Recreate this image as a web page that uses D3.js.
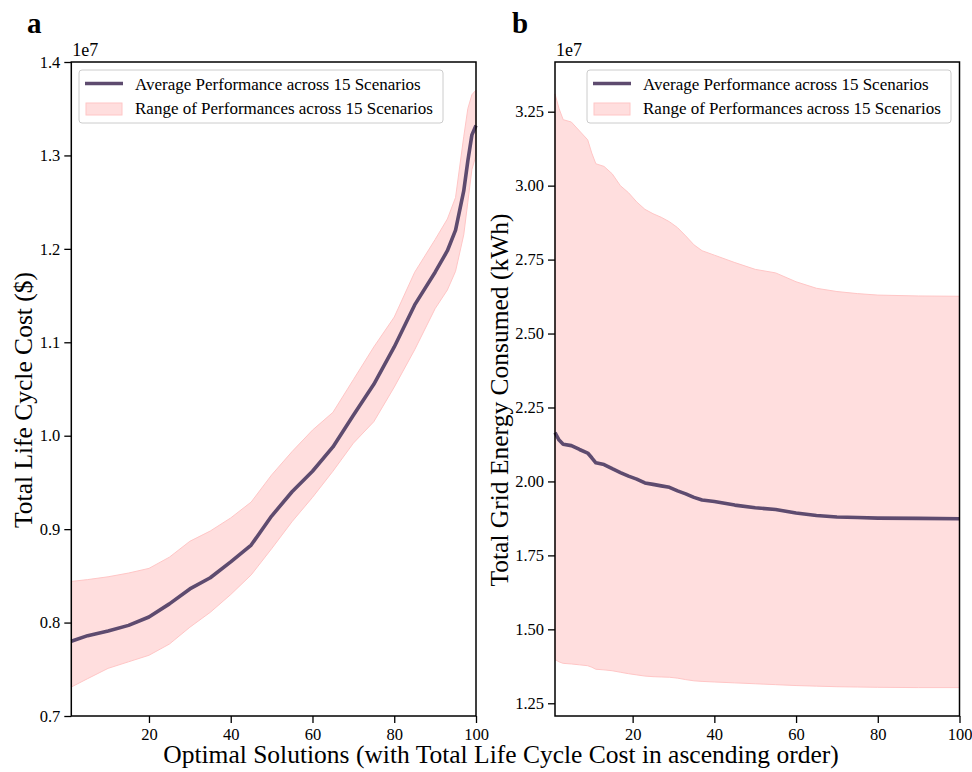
<!DOCTYPE html>
<html>
<head>
<meta charset="utf-8">
<script src="https://cdn.jsdelivr.net/npm/d3@7"></script>
<style>
  body { margin: 0; background: #fff; }
  text { font-family: "Liberation Serif", "Times New Roman", serif; fill: #000; }
</style>
</head>
<body>
<svg id="chart" width="972" height="772"></svg>
<script>
// panel a: total life cycle cost (1e7 $)
var xA = [1, 5, 10, 15, 20, 25, 30, 35, 40, 45, 50, 55, 60, 65, 70, 75, 80, 85, 90, 93, 95, 97, 98, 99, 100];
var meanA = [0.780, 0.786, 0.791, 0.797, 0.806, 0.820, 0.836, 0.848, 0.865, 0.883, 0.914, 0.940, 0.962, 0.988, 1.022, 1.055, 1.095, 1.140, 1.175, 1.198, 1.220, 1.262, 1.294, 1.322, 1.332];
var highA = [0.844, 0.846, 0.849, 0.853, 0.858, 0.870, 0.887, 0.898, 0.912, 0.929, 0.958, 0.983, 1.006, 1.025, 1.060, 1.095, 1.127, 1.175, 1.210, 1.232, 1.255, 1.320, 1.350, 1.365, 1.370];
var lowA = [0.731, 0.740, 0.751, 0.758, 0.765, 0.777, 0.795, 0.811, 0.830, 0.851, 0.879, 0.908, 0.934, 0.962, 0.992, 1.015, 1.052, 1.092, 1.136, 1.156, 1.176, 1.215, 1.250, 1.285, 1.300];

// panel b: total grid energy consumed (1e7 kWh)
var xB = [1, 2, 3, 5, 7, 9, 10, 11, 13, 15, 17, 19, 21, 23, 25, 27, 29, 31, 33, 35, 37, 40, 45, 50, 55, 60, 65, 70, 75, 80, 90, 100];
var meanB = [2.165, 2.140, 2.126, 2.121, 2.108, 2.096, 2.080, 2.063, 2.057, 2.043, 2.030, 2.018, 2.008, 1.995, 1.990, 1.985, 1.980, 1.968, 1.958, 1.946, 1.937, 1.932, 1.920, 1.911, 1.905, 1.893, 1.885, 1.880, 1.878, 1.876, 1.875, 1.874];
var highB = [3.310, 3.260, 3.223, 3.215, 3.185, 3.155, 3.110, 3.074, 3.065, 3.040, 3.000, 2.976, 2.945, 2.920, 2.905, 2.893, 2.878, 2.858, 2.830, 2.800, 2.780, 2.765, 2.740, 2.717, 2.705, 2.675, 2.653, 2.642, 2.635, 2.630, 2.627, 2.626];
var lowB = [1.398, 1.390, 1.385, 1.383, 1.380, 1.377, 1.372, 1.365, 1.363, 1.360, 1.355, 1.350, 1.346, 1.342, 1.340, 1.339, 1.338, 1.335, 1.330, 1.326, 1.324, 1.322, 1.319, 1.316, 1.313, 1.310, 1.308, 1.306, 1.305, 1.304, 1.303, 1.303];

var xTicks = [20, 40, 60, 80, 100];
var yTicksA = [0.7, 0.8, 0.9, 1.0, 1.1, 1.2, 1.3, 1.4];
var yTicksB = [1.25, 1.50, 1.75, 2.00, 2.25, 2.50, 2.75, 3.00, 3.25];

var legendLabels = ["Average Performance across 15 Scenarios", "Range of Performances across 15 Scenarios"];

var lineColor = "#5e4b6f";
var bandFill = "#ffdede";
var bandEdge = "#ffc6c6";

var svg = d3.select("#chart");

function drawPanel(opts) {
  var x = d3.scaleLinear().domain([1, 100]).range([opts.left, opts.right]);
  var y = d3.scaleLinear().domain(opts.yDomain).range([716, 62]);

  var g = svg.append("g");

  var rows = opts.xs.map(function (d, i) {
    return {x: d, mean: opts.mean[i], lo: opts.lo[i], hi: opts.hi[i]};
  });

  var area = d3.area()
    .x(function (d) { return x(d.x); })
    .y0(function (d) { return y(d.lo); })
    .y1(function (d) { return y(d.hi); });

  g.append("path")
    .datum(rows)
    .attr("d", area)
    .attr("fill", bandFill)
    .attr("stroke", bandEdge)
    .attr("stroke-width", 1);

  var line = d3.line()
    .x(function (d) { return x(d.x); })
    .y(function (d) { return y(d.mean); });

  g.append("path")
    .datum(rows)
    .attr("d", line)
    .attr("fill", "none")
    .attr("stroke", lineColor)
    .attr("stroke-width", 3.6)
    .attr("stroke-linejoin", "round");

  // axes
  var xAxis = d3.axisBottom(x).tickValues(xTicks).tickSize(7).tickPadding(5).tickFormat(d3.format("d"));
  var gx = g.append("g").attr("transform", "translate(0,716)").call(xAxis);
  var yAxis = d3.axisLeft(y).tickValues(opts.yTicks).tickSize(7).tickPadding(4).tickFormat(d3.format(opts.fmt));
  var gy = g.append("g").attr("transform", "translate(" + opts.left + ",0)").call(yAxis);
  [gx, gy].forEach(function (a) {
    a.select(".domain").remove();
    a.selectAll("line").attr("stroke", "#000").attr("stroke-width", 1.3);
    a.selectAll("text").style("font-size", "16.5px").style("font-family", "Liberation Serif");
  });

  // frame
  g.append("rect")
    .attr("x", opts.left).attr("y", 62)
    .attr("width", opts.right - opts.left).attr("height", 716 - 62)
    .attr("fill", "none").attr("stroke", "#000").attr("stroke-width", 1.5);

  // offset text
  g.append("text").attr("x", opts.left + 1).attr("y", 56)
    .style("font-size", "18px").text("1e7");

  // panel letter
  g.append("text").attr("x", opts.letterX).attr("y", 33)
    .style("font-size", "29px").style("font-weight", "bold").text(opts.letter);

  // y label
  g.append("text")
    .attr("transform", "translate(" + opts.labelX + ",400) rotate(-90)")
    .attr("text-anchor", "middle")
    .style("font-size", "25.5px")
    .text(opts.yLabel);

  // legend
  var lg = g.append("g").attr("transform", "translate(" + opts.legX + ",70)");
  lg.append("rect").attr("width", 364).attr("height", 53).attr("rx", 3)
    .attr("fill", "#fff").attr("fill-opacity", 0.8)
    .attr("stroke", "#cccccc").attr("stroke-width", 1);
  lg.append("line").attr("x1", 6).attr("x2", 44).attr("y1", 13.5).attr("y2", 13.5)
    .attr("stroke", lineColor).attr("stroke-width", 3.6);
  lg.append("rect").attr("x", 7).attr("y", 33).attr("width", 36).attr("height", 12)
    .attr("fill", bandFill).attr("stroke", bandEdge).attr("stroke-width", 1);
  lg.selectAll("text.lab").data(legendLabels).enter().append("text")
    .attr("class", "lab")
    .attr("x", 56)
    .attr("y", function (d, i) { return 20 + i * 23.5; })
    .style("font-size", "17px")
    .text(function (d) { return d; });
}

drawPanel({
  left: 71.3, right: 476, yDomain: [0.7, 1.4], yTicks: yTicksA, fmt: ".1f",
  xs: xA, mean: meanA, lo: lowA, hi: highA,
  letter: "a", letterX: 27, labelX: 32, legX: 79,
  yLabel: "Total Life Cycle Cost ($)"
});

drawPanel({
  left: 555, right: 959.5, yDomain: [1.207, 3.418], yTicks: yTicksB, fmt: ".2f",
  xs: xB, mean: meanB, lo: lowB, hi: highB,
  letter: "b", letterX: 512, labelX: 508, legX: 587,
  yLabel: "Total Grid Energy Consumed (kWh)"
});

// shared x label
svg.append("text")
  .attr("x", 501).attr("y", 763)
  .attr("text-anchor", "middle")
  .style("font-size", "25.5px")
  .text("Optimal Solutions (with Total Life Cycle Cost in ascending order)");
</script>
</body>
</html>
